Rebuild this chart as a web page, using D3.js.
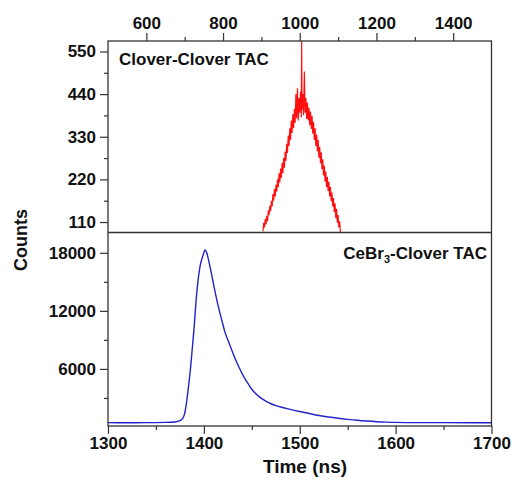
<!DOCTYPE html>
<html><head><meta charset="utf-8">
<script src="https://cdn.jsdelivr.net/npm/d3@7"></script>
<style>body{margin:0;background:#fff}svg{font-family:"Liberation Sans",Arial,sans-serif;font-weight:bold}</style>
</head><body>
<svg id="c" width="513" height="485"></svg>
<script>
// Top panel: Clover-Clover TAC (top x axis, arbitrary channel/time)
const topTicksX = [600, 800, 1000, 1200, 1400];
const topTicksY = [110, 220, 330, 440, 550];
const cloverT = [904,906,908,910,912,914,916,918,920,922,924,926,928,930,932,934,936,938,940,942,944,946,948,950,952,954,956,958,960,962,964,966,968,970,972,974,976,978,980,982,984,986,988,990,992,994,996,998,1000,1002,1004,1005,1006,1008,1010,1012,1014,1016,1018,1020,1022,1024,1026,1028,1030,1032,1034,1036,1038,1040,1042,1044,1046,1048,1050,1052,1054,1056,1058,1060,1062,1064,1066,1068,1070,1072,1074,1076,1078,1080,1082,1084,1086,1088,1090,1092,1094,1096,1098,1100,1102,1104,1106];
const cloverCounts = [86,108,96,118,104,126,112,140,128,152,138,165,150,182,165,195,176,206,188,220,200,236,212,248,224,262,236,275,250,292,268,312,288,333,306,352,322,372,340,388,352,402,366,440,378,455,372,430,392,446,380,577,400,440,386,498,392,430,376,418,372,405,360,395,350,384,338,368,322,352,306,336,292,322,276,304,262,290,246,272,230,256,214,240,200,226,190,214,176,200,164,186,150,172,136,158,120,144,108,128,96,112,84];

// Bottom panel: CeBr3-Clover TAC
const botTicksX = [1300, 1400, 1500, 1600, 1700];
const botTicksY = [6000, 12000, 18000];
const cebrT = [1300,1320,1340,1360,1370,1375,1378,1380,1382,1384,1386,1388,1390,1392,1394,1396,1398,1400,1401,1402,1403,1405,1408,1411,1414,1418,1422,1427,1432,1437,1441,1446,1450,1455,1460,1465,1470,1476,1480,1490,1500,1510,1520,1530,1540,1550,1560,1570,1580,1590,1600,1620,1650,1680,1700];
const cebrCounts = [450,440,450,470,520,650,900,1400,2600,4200,6000,8200,10500,13200,15200,16600,17400,18000,18300,18200,18000,17200,15800,14300,12900,11300,9800,8500,7200,6100,5300,4500,3900,3350,2950,2650,2400,2180,2060,1820,1600,1390,1190,1030,900,790,690,610,545,500,470,450,450,440,440];

const svg = d3.select("#c");
const L = 108, R = 491.5, T = 41, M = 232.5, B = 426;
const ink = "#333";
const fmt = d3.format("d");

const xTop = d3.scaleLinear().domain([500, 1500]).range([L, R]);
const yTop = d3.scaleLinear().domain([83, 577]).range([M, T]);
const xBot = d3.scaleLinear().domain([1300, 1700]).range([L, R]);
const yBot = d3.scaleLinear().domain([100, 20100]).range([B, M]);

svg.append("defs").html(
  `<clipPath id="cpT"><rect x="${L}" y="${T}" width="${R-L}" height="${M-T}"/></clipPath>
   <clipPath id="cpB"><rect x="${L}" y="${M}" width="${R-L}" height="${B-M}"/></clipPath>`);

// data lines
svg.append("path")
  .datum(cloverT.map((t,i)=>[t, cloverCounts[i]]))
  .attr("clip-path","url(#cpT)")
  .attr("fill","none").attr("stroke","#ff1010").attr("stroke-width",1.2)
  .attr("d", d3.line().x(d=>xTop(d[0])).y(d=>yTop(d[1])));

svg.append("path")
  .datum(cebrT.map((t,i)=>[t, cebrCounts[i]]))
  .attr("clip-path","url(#cpB)")
  .attr("fill","none").attr("stroke","#2323c8").attr("stroke-width",1.4)
  .attr("d", d3.line().curve(d3.curveMonotoneX).x(d=>xBot(d[0])).y(d=>yBot(d[1])));

function styleAxis(g){
  g.select(".domain").remove();
  g.selectAll("line").attr("stroke", ink).attr("stroke-width", 1.2);
  g.selectAll("text").attr("fill","#111").style("font-size","17px").style("font-weight","bold");
}
function minor(axisFn, scale, vals, tr){
  svg.append("g").attr("transform", tr)
    .call(axisFn(scale).tickValues(vals).tickSize(4).tickFormat(""))
    .call(a=>{a.select(".domain").remove(); a.selectAll("line").attr("stroke",ink).attr("stroke-width",1.2);});
}

// top x axis
svg.append("g").attr("transform",`translate(0,${T})`)
  .call(d3.axisTop(xTop).tickValues(topTicksX).tickFormat(fmt).tickSize(8).tickPadding(4))
  .call(styleAxis);
minor(d3.axisTop, xTop, [700, 900, 1100, 1300], `translate(0,${T})`);

// top y axis
svg.append("g").attr("transform",`translate(${L},0)`)
  .call(d3.axisLeft(yTop).tickValues(topTicksY).tickFormat(fmt).tickSize(8).tickPadding(4))
  .call(styleAxis);
minor(d3.axisLeft, yTop, [165, 275, 385, 495], `translate(${L},0)`);

// bottom x axis
svg.append("g").attr("transform",`translate(0,${B})`)
  .call(d3.axisBottom(xBot).tickValues(botTicksX).tickFormat(fmt).tickSize(8).tickPadding(3))
  .call(styleAxis);
minor(d3.axisBottom, xBot, [1350, 1450, 1550, 1650], `translate(0,${B})`);

// bottom y axis
svg.append("g").attr("transform",`translate(${L},0)`)
  .call(d3.axisLeft(yBot).tickValues(botTicksY).tickFormat(fmt).tickSize(8).tickPadding(4))
  .call(styleAxis);
minor(d3.axisLeft, yBot, [3000, 9000, 15000], `translate(${L},0)`);

// frame
svg.append("rect").attr("x",L).attr("y",T).attr("width",R-L).attr("height",B-T)
  .attr("fill","none").attr("stroke",ink).attr("stroke-width",1.3);
svg.append("line").attr("x1",L).attr("x2",R).attr("y1",M).attr("y2",M)
  .attr("stroke",ink).attr("stroke-width",1.3);

// labels
svg.append("text").attr("x",119).attr("y",65).attr("fill","#111")
  .style("font-size","17px").text("Clover-Clover TAC");
const ce = svg.append("text").attr("x",487).attr("y",259).attr("fill","#111")
  .attr("text-anchor","end").style("font-size","17px");
ce.append("tspan").text("CeBr");
ce.append("tspan").attr("dy",4).style("font-size","11px").text("3");
ce.append("tspan").attr("dy",-4).text("-Clover TAC");

svg.append("text").attr("x",305).attr("y",473).attr("text-anchor","middle").attr("fill","#111")
  .style("font-size","19px").text("Time (ns)");
svg.append("text").attr("transform","translate(27,240) rotate(-90)").attr("text-anchor","middle")
  .attr("fill","#111").style("font-size","18px").text("Counts");
</script>
</body></html>
